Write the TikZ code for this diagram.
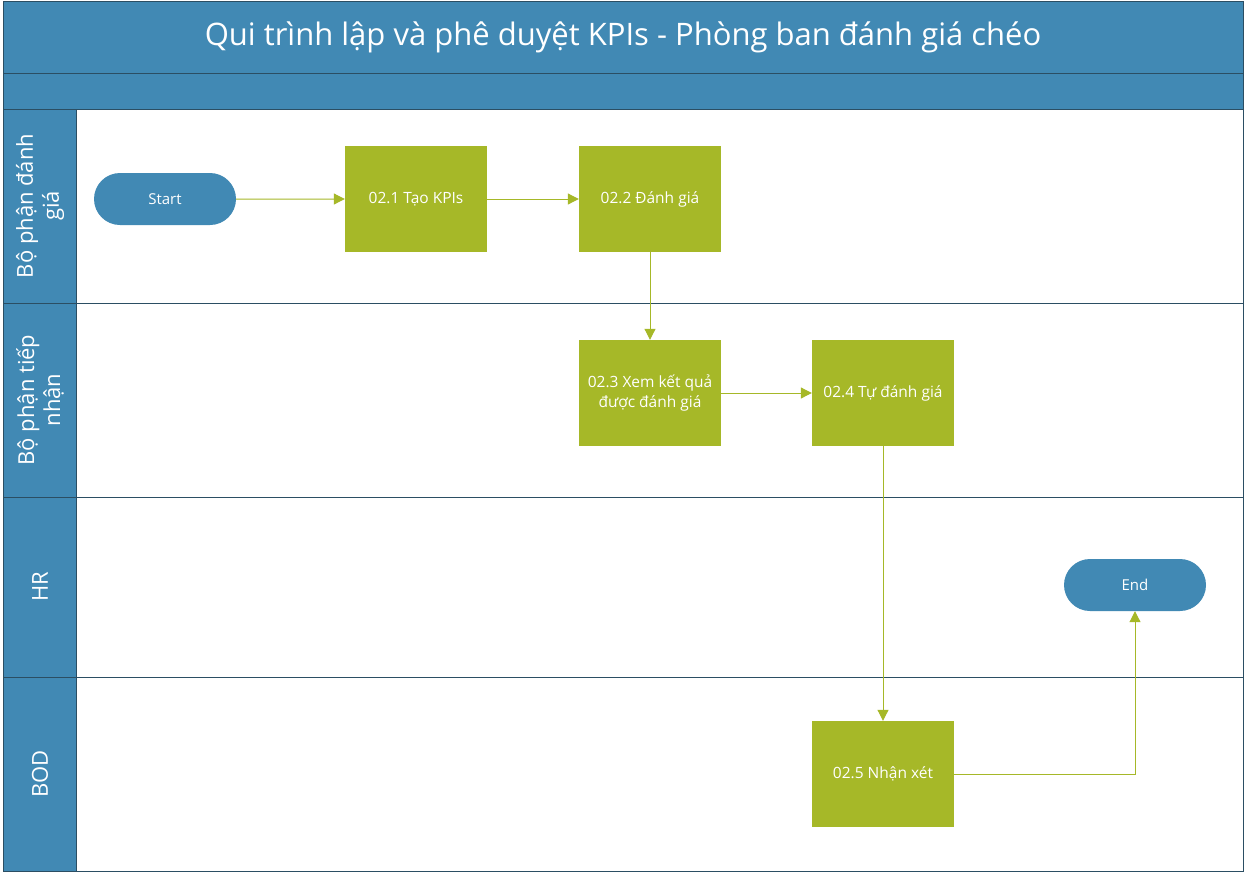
\documentclass[tikz,border=0pt]{standalone}
\usepackage{fontspec}
\setmainfont{Open Sans}
\usetikzlibrary{arrows.meta,shapes.misc}
\definecolor{bandblue}{HTML}{4189B4}
\definecolor{linedark}{HTML}{2B4E63}
\definecolor{stepgreen}{HTML}{A6B828}
\tikzset{
  x=1pt,y=-1pt,
  band/.style={draw=linedark,fill=bandblue,line width=1pt},
  lanebox/.style={draw=linedark,fill=white,line width=1pt},
  lanetext/.style={text=white,font=\fontsize{22}{26}\selectfont,rotate=90,align=center},
  stepbox/.style={fill=stepgreen,draw=none,minimum width=142pt,minimum height=106pt,text=white,font=\fontsize{15.5}{20}\selectfont,align=center,inner sep=0pt},
  term/.style={rounded rectangle,fill=bandblue,draw=none,minimum width=142pt,minimum height=52pt,text=white,font=\fontsize{15}{18}\selectfont,inner sep=0pt},
  flow/.style={draw=stepgreen,line width=1pt,-{Triangle[length=11pt,width=11pt]}}
}
\begin{document}
\begin{tikzpicture}
\useasboundingbox (0,0) rectangle (1245,873);
% frame and bands
\draw[band] (3,1) rectangle (1243,73);
\draw[band] (3,73) rectangle (1243,109);
\node[text=white,font=\fontsize{31}{36}\selectfont] (title) at (623,37) {Qui trình lập và phê duyệt KPIs - Phòng ban đánh giá chéo};
% lanes
\draw[lanebox] (76,109) rectangle (1243,303);
\draw[lanebox] (76,303) rectangle (1243,497);
\draw[lanebox] (76,497) rectangle (1243,677);
\draw[lanebox] (76,677) rectangle (1243,871);
\draw[band] (3,109) rectangle (76,303);
\draw[band] (3,303) rectangle (76,497);
\draw[band] (3,497) rectangle (76,677);
\draw[band] (3,677) rectangle (76,871);
\node[lanetext] (l1) at (40,206) {Bộ phận đánh\\giá};
\node[lanetext] (l2) at (40,400) {Bộ phận tiếp\\nhận};
\node[lanetext] (l3) at (40,587) {HR};
\node[lanetext] (l4) at (40,774) {BOD};
% nodes
\node[term] (start) at (165,199) {Start};
\node[stepbox] (s1) at (416,199) {02.1 Tạo KPIs};
\node[stepbox] (s2) at (650,199) {02.2 Đánh giá};
\node[stepbox] (s3) at (650,393) {02.3 Xem kết quả\\được đánh giá};
\node[stepbox] (s4) at (883,393) {02.4 Tự đánh giá};
\node[term] (end) at (1135,585) {End};
\node[stepbox] (s5) at (883,774) {02.5 Nhận xét};
% connectors
\draw[flow] (start) -- (s1);
\draw[flow] (s1) -- (s2);
\draw[flow] (s2) -- (s3);
\draw[flow] (s3) -- (s4);
\draw[flow] (s4) -- (s5);
\draw[flow] (s5.east) -| (end.south);
\end{tikzpicture}
\end{document}
